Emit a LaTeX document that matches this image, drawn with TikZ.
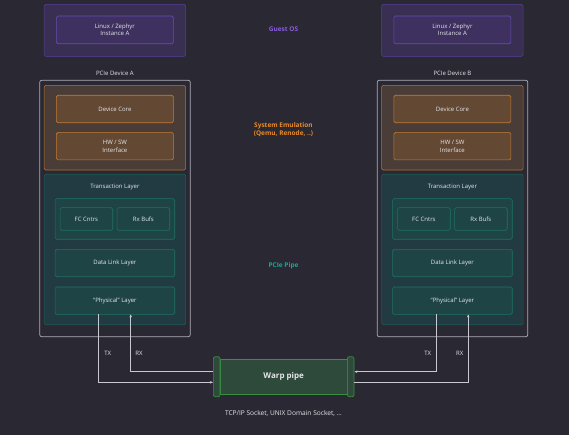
\documentclass[tikz,border=0pt]{standalone}
\usepackage{fontspec}
\setmainfont{Open Sans}
\usetikzlibrary{positioning}
\usetikzlibrary{arrows.meta}
\definecolor{bg}{HTML}{292833}
\definecolor{osfill}{HTML}{382F52}
\definecolor{osline}{HTML}{5A3E9C}
\definecolor{osinfill}{HTML}{3E305F}
\definecolor{osinline}{HTML}{6A4CB4}
\definecolor{ostext}{HTML}{8A5CE0}
\definecolor{emufill}{HTML}{4A3C36}
\definecolor{emuline}{HTML}{B5712C}
\definecolor{emuinfill}{HTML}{634934}
\definecolor{emuinline}{HTML}{C57B31}
\definecolor{emutext}{HTML}{E88C2C}
\definecolor{tlfill}{HTML}{223A41}
\definecolor{tlline}{HTML}{1B5C55}
\definecolor{tlinfill}{HTML}{1F4446}
\definecolor{tlinline}{HTML}{1E7264}
\definecolor{pipetext}{HTML}{18A897}
\definecolor{devline}{HTML}{AFAFB8}
\definecolor{warpfill}{HTML}{2E4A3A}
\definecolor{warpline}{HTML}{3B8E41}
\definecolor{wirecol}{HTML}{C8C8D0}
\definecolor{txt}{HTML}{E6E6EA}

\begin{document}
\begin{tikzpicture}[x=1pt, y=-1pt,
    box/.style={draw, rectangle, rounded corners=1.5pt, line width=0.6pt, inner sep=0pt, outer sep=0pt,
        text=txt, align=center, font=\fontsize{6}{7.6}\selectfont},
    osbox/.style={box, fill=osfill, draw=osline, minimum width=141.5pt, minimum height=52pt},
    osinbox/.style={box, fill=osinfill, draw=osinline, minimum width=117pt, minimum height=27.7pt},
    emubox/.style={box, fill=emufill, draw=emuline, minimum width=141.5pt, minimum height=84.7pt},
    emuinbox/.style={box, fill=emuinfill, draw=emuinline, minimum width=117pt, minimum height=27.5pt},
    tlbox/.style={box, fill=tlfill, draw=tlline, minimum width=141.5pt, minimum height=150.4pt},
    tlinbox/.style={box, fill=tlinfill, draw=tlinline, minimum width=119.7pt, minimum height=27.4pt},
    cellbox/.style={box, fill=tlinfill, draw=tlinline, minimum width=52.7pt, minimum height=22.6pt},
    devbox/.style={draw=devline, rectangle, rounded corners=2pt, line width=0.7pt,
        minimum width=150.6pt, minimum height=256.4pt, inner sep=0pt},
    lbl/.style={text=txt, font=\fontsize{6}{7.6}\selectfont},
    side/.style={font=\fontsize{6.5}{8}\selectfont\bfseries, align=center},
    wire/.style={draw=wirecol, line width=0.7pt},
    tip/.style={-{Stealth[length=3pt, width=2.6pt]}}]

\useasboundingbox[fill=bg] (0,0) rectangle (569,435);

% guest OS, emulation and PCIe stack of both devices
\foreach \d/\x in {A/114.9, B/452.4} {
    \node[osbox] (os\d) at (\x,30.4) {};
    \node[osinbox] (linux\d) at (\x,29.9) {Linux / Zephyr\\Instance A};
    \node[devbox] (dev\d) at (\x+0.1,208.5) {};
    \node[lbl] (name\d) at (\x,73) {PCIe Device \d};
    \node[emubox] (emu\d) at (\x,127.7) {};
    \node[emuinbox] (core\d) at (\x,109) {Device Core};
    \node[emuinbox] (hwsw\d) at (\x,146.2) {HW / SW\\Interface};
    \node[tlbox] (tl\d) at (\x,249.5) {};
    \node[lbl] (tlname\d) at (\x,186.7) {Transaction Layer};
    \node[tlinbox, minimum height=40.6pt] (grp\d) at (\x,219) {};
    \node[cellbox] (fc\d) at (\x-28.5,219) {FC Cntrs};
    \node[cellbox] (rxb\d) at (\x+28.5,219) {Rx Bufs};
    \node[tlinbox] (dll\d) at (\x,263) {Data Link Layer};
    \node[tlinbox] (phy\d) at (\x,300.7) {``Physical'' Layer};
}

% layer names in the middle
\node[side, text=ostext] (guest) at (283.5,29) {Guest OS};
\node[side, text=emutext] (sysemu) at (283.5,130) {System Emulation\\(Qemu, Renode, ..)};
\node[side, text=pipetext] (pipe) at (283.5,266) {PCIe Pipe};

% warp pipe
\node[draw=warpline, fill=warpfill, line width=0.7pt, minimum width=127.3pt, minimum height=35.7pt,
    inner sep=0pt, text=txt, font=\fontsize{8}{10}\selectfont\bfseries] (warp) at (283.7,376.8) {Warp pipe};
\node[draw=warpline, fill=warpfill, line width=0.7pt, rounded corners=2pt, minimum width=6.7pt,
    minimum height=40pt, inner sep=0pt] (capL) at (216.7,376.7) {};
\node[draw=warpline, fill=warpfill, line width=0.7pt, rounded corners=2pt, minimum width=6.7pt,
    minimum height=40pt, inner sep=0pt] (capR) at (350.7,376.7) {};
\node[lbl, font=\fontsize{6.6}{8}\selectfont] (sock) at (283.5,413.3) {TCP/IP Socket, UNIX Domain Socket, ...};

% TX / RX links
\draw[wire, tip] ([xshift=-16.2pt]phyA.south) |- ([yshift=-5.6pt]capL.west);
\draw[wire, tip] ([yshift=5pt]capL.west) -| ([xshift=15.8pt]phyA.south);
\draw[wire, tip] ([xshift=-16.2pt]phyB.south) |- ([yshift=5pt]capR.east);
\draw[wire, tip] ([yshift=-5.6pt]capR.east) -| ([xshift=15.8pt]phyB.south);

\node[lbl] (txA) at (107.7,353.3) {TX};
\node[lbl] (rxA) at (139,353.3) {RX};
\node[lbl] (txB) at (427.7,353.3) {TX};
\node[lbl] (rxB) at (459.7,353.3) {RX};
\end{tikzpicture}
\end{document}
